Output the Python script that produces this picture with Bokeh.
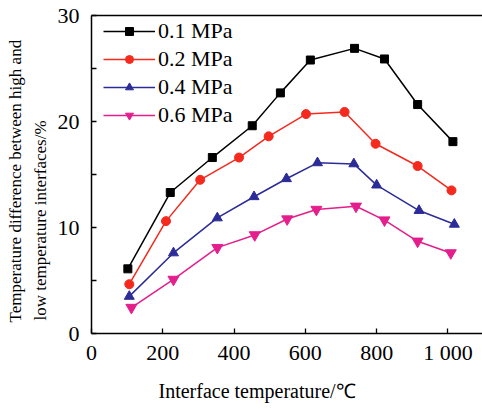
from bokeh.plotting import figure
from bokeh.models import (FixedTicker, Legend, LegendItem, Title, LinearAxis, Range1d)
from bokeh.embed import file_html
from bokeh.resources import INLINE

# ---- data ----
series_names = ["0.1 MPa", "0.2 MPa", "0.4 MPa", "0.6 MPa"]
x_01 = [102, 221, 339, 451, 530, 614, 738, 822, 915, 1014]
y_01 = [6.1, 13.3, 16.6, 19.6, 22.7, 25.8, 26.9, 25.9, 21.6, 18.1]
x_02 = [106, 209, 305, 414, 497, 602, 710, 797, 915, 1010]
y_02 = [4.65, 10.6, 14.5, 16.6, 18.6, 20.7, 20.9, 17.9, 15.8, 13.5]
x_04 = [106, 230, 353, 456, 547, 634, 736, 800, 919, 1018]
y_04 = [3.5, 7.6, 10.9, 12.9, 14.6, 16.1, 16.0, 14.0, 11.6, 10.3]
x_06 = [112, 230, 353, 458, 549, 631, 742, 822, 915, 1008]
y_06 = [2.45, 5.1, 8.1, 9.3, 10.8, 11.7, 12.0, 10.7, 8.7, 7.6]

x_ticks = [0, 200, 400, 600, 800, 1000]
x_tick_labels = ["0", "200", "400", "600", "800", "1 000"]
y_ticks = [0, 10, 20, 30]
y_minor_ticks = [5, 15, 25]

x_title = "Interface temperature/\u2103"
y_title_1 = "Temperature difference between high and"
y_title_2 = "low temperature interfaces/%"

FONT = "Liberation Serif"

p = figure(width=482, height=412, output_backend="svg", toolbar_location=None,
           x_range=Range1d(0, 1097), y_range=Range1d(0, 30),
           min_border_left=91, min_border_right=0, min_border_top=15,
           min_border_bottom=79)
p.outline_line_color = None
p.xgrid.visible = False
p.ygrid.visible = False
p.background_fill_color = "white"
p.border_fill_color = "white"

for ax in (p.xaxis[0], p.yaxis[0]):
    ax.axis_line_color = "black"
    ax.axis_line_width = 1.5
    ax.major_tick_line_color = "black"
    ax.major_tick_line_width = 1.3
    ax.minor_tick_line_color = "black"
    ax.minor_tick_line_width = 1.3
    ax.major_tick_in = 5
    ax.major_tick_out = 0
    ax.minor_tick_in = 5
    ax.minor_tick_out = 0
    ax.major_label_text_font = FONT
    ax.major_label_text_font_size = "22px"
    ax.major_label_text_color = "black"

p.xaxis[0].ticker = FixedTicker(ticks=x_ticks)
p.xaxis[0].major_label_overrides = {t: l for t, l in zip(x_ticks, x_tick_labels)}
p.xaxis[0].major_label_standoff = 6
p.yaxis[0].ticker = FixedTicker(ticks=y_ticks, minor_ticks=y_minor_ticks)
p.yaxis[0].major_label_standoff = 12

# top border line
top = LinearAxis(axis_line_color="black", axis_line_width=1.5,
                 major_tick_in=0, major_tick_out=0, minor_tick_in=0, minor_tick_out=0,
                 major_label_text_font_size="0px", major_label_standoff=0,
                 ticker=FixedTicker(ticks=[]))
p.add_layout(top, "above")

specs = [
    (x_01, y_01, "black", "square", 8),
    (x_02, y_02, "#f52a1e", "circle", 9),
    (x_04, y_04, "#2c2c98", "triangle", 10),
    (x_06, y_06, "#e41e8c", "inverted_triangle", 11),
]
items = []
for name, (xs, ys, col, mk, sz) in zip(series_names, specs):
    ln = p.line(xs, ys, line_color=col, line_width=1.5)
    sc = p.scatter(xs, ys, marker=mk, size=sz, fill_color=col, line_color=col)
    items.append(LegendItem(label=name, renderers=[ln, sc]))

leg = Legend(items=items, location=(12, 205), padding=0, margin=0,
             glyph_width=52, glyph_height=20, label_height=20, spacing=2,
             label_standoff=3, label_text_font=FONT, label_text_font_size="22px",
             label_text_color="black", background_fill_alpha=0,
             border_line_color=None)
p.add_layout(leg, "center")

p.add_layout(Title(text=x_title, align="left", offset=67, standoff=21,
                   text_font=FONT, text_font_size="20px", text_font_style="normal",
                   text_color="black"), "below")
p.add_layout(Title(text=y_title_2, align="left", offset=13, standoff=9,
                   text_font=FONT, text_font_size="17px", text_font_style="normal",
                   text_color="black"), "left")
p.add_layout(Title(text=y_title_1, align="left", offset=11, standoff=0,
                   text_font=FONT, text_font_size="17px", text_font_style="normal",
                   text_color="black"), "left")

open("out.html", "w").write(file_html(p, INLINE))
